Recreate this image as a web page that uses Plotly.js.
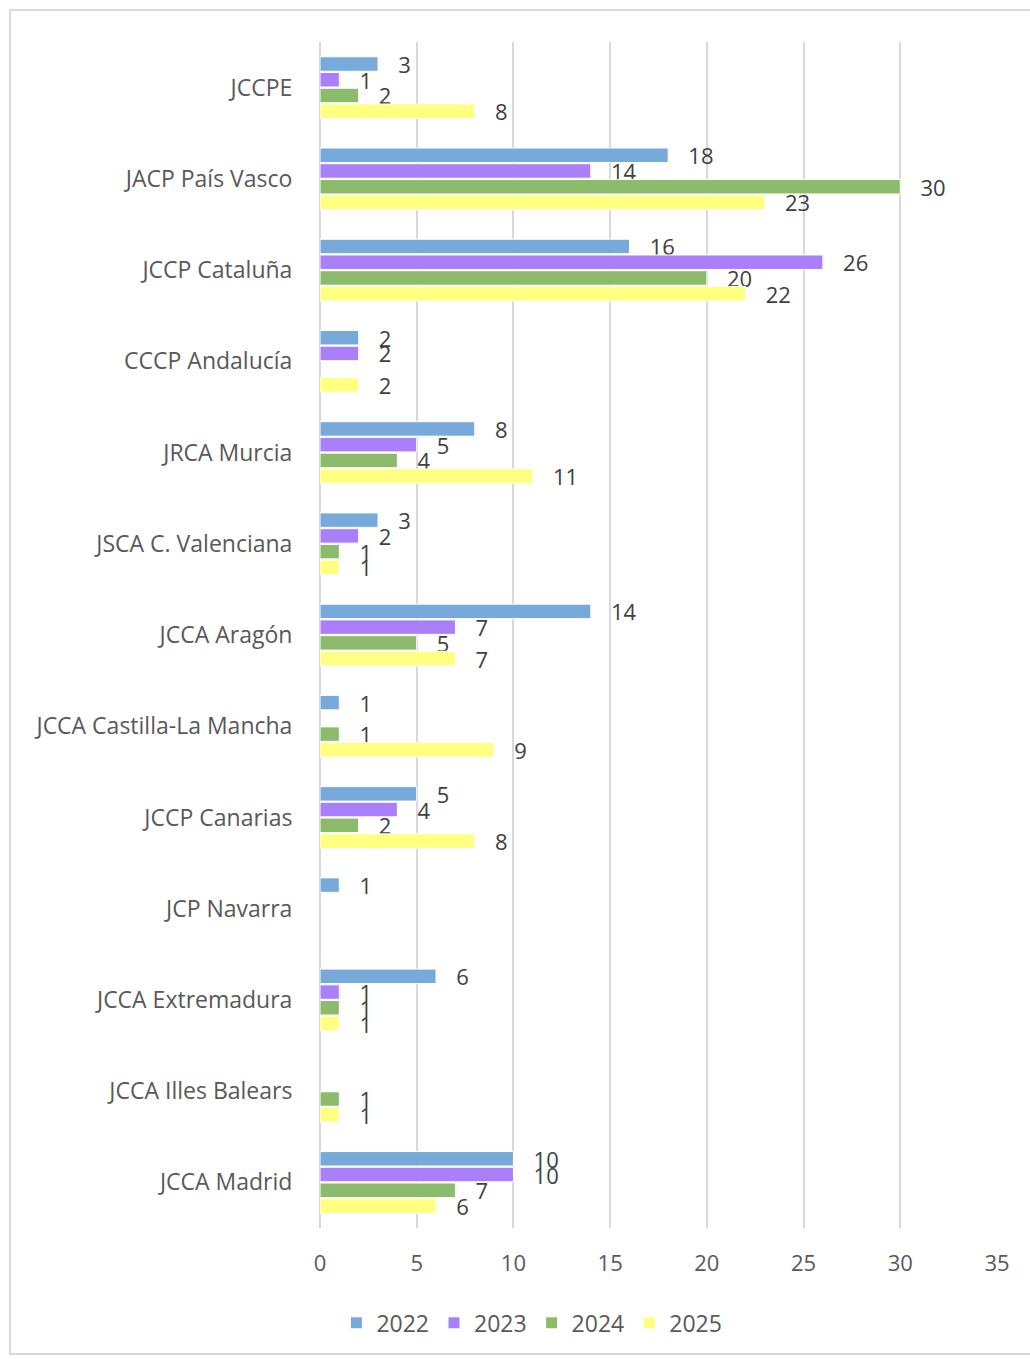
<!DOCTYPE html>
<html>
<head>
<meta charset="utf-8">
<script src="https://cdn.plot.ly/plotly-3.0.1.min.js"></script>
<style>
html,body{margin:0;padding:0;background:#fff;}
#wrap{position:relative;width:1030px;height:1359px;overflow:hidden;}
#frame{position:absolute;left:9px;top:9px;width:1040px;height:1346px;border:2px solid #d9d9d9;box-sizing:border-box;pointer-events:none;}
#chart{position:absolute;left:0;top:0;width:1030px;height:1359px;}
</style>
</head>
<body>
<div id="wrap"><div id="chart"></div><div id="frame"></div></div>
<script>
const categories = ["JCCPE","JACP País Vasco","JCCP Cataluña","CCCP Andalucía","JRCA Murcia","JSCA C. Valenciana","JCCA Aragón","JCCA Castilla-La Mancha","JCCP Canarias","JCP Navarra","JCCA Extremadura","JCCA Illes Balears","JCCA Madrid"];
const seriesNames = ["2022","2023","2024","2025"];
const v2022 = [3,18,16,2,8,3,14,1,5,1,6,null,10];
const v2023 = [1,14,26,2,5,2,7,null,4,null,1,null,10];
const v2024 = [2,30,20,null,4,1,5,1,2,null,1,1,7];
const v2025 = [8,23,22,2,11,1,7,9,8,null,1,1,6];
const xTicks = [0,5,10,15,20,25,30,35];
const colors = ["#78a9db","#a97ffa","#8cbb6b","#ffff80"];

const FONT = '"Open Sans", "Noto Sans", sans-serif';
const allVals = [v2022,v2023,v2024,v2025];
const traces = allVals.map((vals,i)=>({
  type:'bar', orientation:'h', name:seriesNames[i],
  y:categories, x:vals,
  marker:{color:colors[i], line:{color:'#ffffff', width:1}},
  text: vals.map(v=> v==null ? '' : String(v)),
  texttemplate:'   %{text}',
  textposition:'outside',
  constraintext:'none',
  cliponaxis:false,
  textfont:{family:FONT, size:22, color:'#404040'},
  hoverinfo:'skip'
}));

const layout = {
  width:1030, height:1359,
  margin:{l:320, r:33, t:42, b:131},
  paper_bgcolor:'rgba(0,0,0,0)', plot_bgcolor:'#ffffff',
  barmode:'group', bargap:0.31, bargroupgap:0.08,
  font:{family:FONT, size:22, color:'#595959'},
  showlegend:true,
  legend:{orientation:'h', x:0.313, xanchor:'center', y:-0.08, yanchor:'middle', traceorder:'normal',
          font:{size:23, color:'#595959'}, itemwidth:30},
  xaxis:{range:[0,35], tickvals:xTicks, ticktext:xTicks.map(String), showgrid:true, gridcolor:'#d9d9d9', gridwidth:2,
         zeroline:true, zerolinecolor:'#d9d9d9', zerolinewidth:2, showline:false,
         ticks:'outside', ticklen:16, tickcolor:'rgba(0,0,0,0)', tickfont:{size:22, color:'#595959'}, fixedrange:true},
  yaxis:{autorange:'reversed', type:'category', showgrid:false, zeroline:false, showline:false,
         ticks:'outside', ticklen:22, tickcolor:'rgba(0,0,0,0)', tickfont:{size:23, color:'#595959'}, fixedrange:true}
};
Plotly.newPlot('chart', traces, layout, {staticPlot:true, displayModeBar:false});
</script>
</body>
</html>
